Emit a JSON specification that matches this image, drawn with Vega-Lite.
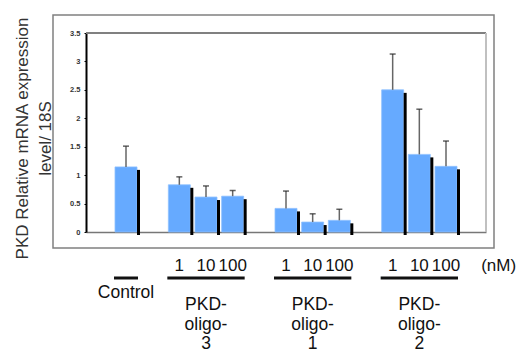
{
  "$schema": "https://vega.github.io/schema/vega-lite/v6.json",
  "padding": {"left": 12, "top": 14, "right": 0, "bottom": 0},
  "bounds": "flush",
  "spacing": 0,
  "config": {
    "font": "Liberation Sans",
    "view": {"stroke": "#808080", "strokeWidth": 1.5},
    "axisY": {
      "tickCount": 8,
      "labelExpr": "format(datum.value, '~g')",
      "labelOverlap": false,
      "labelFont": "Liberation Sans",
      "labelFontSize": 7.5,
      "labelFontWeight": "bold",
      "labelColor": "#333333",
      "labelPadding": 4,
      "tickColor": "#000000",
      "tickSize": 2,
      "tickWidth": 1,
      "domainColor": "#000000",
      "domainWidth": 2,
      "grid": false
    }
  },
  "datasets": {
    "bars": [
      {"slot": "C", "value": 1.145, "upper": 1.51},
      {"slot": "o3-1", "value": 0.83, "upper": 0.97},
      {"slot": "o3-10", "value": 0.615, "upper": 0.81},
      {"slot": "o3-100", "value": 0.63, "upper": 0.73},
      {"slot": "o1-1", "value": 0.415, "upper": 0.72},
      {"slot": "o1-10", "value": 0.175, "upper": 0.32},
      {"slot": "o1-100", "value": 0.205, "upper": 0.4},
      {"slot": "o2-1", "value": 2.5, "upper": 3.13},
      {"slot": "o2-10", "value": 1.365, "upper": 2.16},
      {"slot": "o2-100", "value": 1.155, "upper": 1.6}
    ],
    "labels": [
      {"slot": "o3-1", "row": "dose", "text": "1", "kind": "dose"},
      {"slot": "o3-10", "row": "dose", "text": "10", "kind": "dose"},
      {"slot": "o3-100", "row": "dose", "text": "100", "kind": "dose"},
      {"slot": "o1-1", "row": "dose", "text": "1", "kind": "dose"},
      {"slot": "o1-10", "row": "dose", "text": "10", "kind": "dose"},
      {"slot": "o1-100", "row": "dose", "text": "100", "kind": "dose"},
      {"slot": "o2-1", "row": "dose", "text": "1", "kind": "dose"},
      {"slot": "o2-10", "row": "dose", "text": "10", "kind": "dose"},
      {"slot": "o2-100", "row": "dose", "text": "100", "kind": "dose"},
      {"slot": "o3-10", "row": "n1", "text": "PKD-", "kind": "main"},
      {"slot": "o3-10", "row": "n2", "text": "oligo-", "kind": "main"},
      {"slot": "o3-10", "row": "n3", "text": "3", "kind": "main"},
      {"slot": "o1-10", "row": "n1", "text": "PKD-", "kind": "main"},
      {"slot": "o1-10", "row": "n2", "text": "oligo-", "kind": "main"},
      {"slot": "o1-10", "row": "n3", "text": "1", "kind": "main"},
      {"slot": "o2-10", "row": "n1", "text": "PKD-", "kind": "main"},
      {"slot": "o2-10", "row": "n2", "text": "oligo-", "kind": "main"},
      {"slot": "o2-10", "row": "n3", "text": "2", "kind": "main"},
      {"slot": "C", "row": "mid", "text": "Control", "kind": "control"},
      {"slot": "e14", "row": "dose", "text": "(nM)", "kind": "unit"}
    ],
    "groups": [
      {"from": "C", "to": "C"},
      {"from": "o3-1", "to": "o3-100"},
      {"from": "o1-1", "to": "o1-100"},
      {"from": "o2-1", "to": "o2-100"}
    ]
  },
  "vconcat": [
    {
      "width": 441,
      "height": 233,
      "view": {"stroke": "#808080", "strokeWidth": 1.5},
      "data": {"name": "bars"},
      "layer": [
        {
          "mark": {"type": "bar", "color": "#66aaff", "stroke": "#8ec0ff", "strokeWidth": 0.8, "width": {"band": 0.825}},
          "encoding": {
            "x": {
              "field": "slot",
              "type": "nominal",
              "scale": {
                "domain": ["e0", "C", "e2", "o3-1", "o3-10", "o3-100", "e6", "o1-1", "o1-10", "o1-100", "e10", "o2-1", "o2-10", "o2-100", "e14"],
                "range": [33, 433],
                "paddingInner": 0,
                "paddingOuter": 0
              },
              "axis": {"orient": "bottom", "offset": -16, "labels": false, "ticks": false, "domainColor": "#777777", "domainWidth": 1.5, "title": null, "grid": false}
            },
            "y": {
              "field": "value",
              "type": "quantitative",
              "scale": {"domain": [0, 3.5], "range": [217, 18], "nice": false, "zero": true},
              "axis": {
                "orient": "left",
                "offset": -33,
                "values": [0, 0.5, 1, 1.5, 2, 2.5, 3, 3.5],
                "labelExpr": "format(datum.value, '~g')",
                "labelOverlap": false,
                "labelFontWeight": "bold",
                "labelFontSize": 7.5,
                "title": ["PKD Relative mRNA expression", "level/ 18S"],
                "titleFont": "Liberation Sans",
                "titleFontSize": 17,
                "titleFontWeight": "normal",
                "titleColor": "#333333",
                "titleLineHeight": 23,
                "titlePadding": 15,
                "titleY": 123
              }
            }
          }
        },
        {
          "mark": {"type": "bar", "color": "#000000", "width": 3, "xOffset": 12.5, "yOffset": 3},
          "encoding": {
            "x": {"field": "slot", "type": "nominal"},
            "y": {"field": "value", "type": "quantitative"}
          }
        },
        {
          "mark": {"type": "rule", "color": "#666666", "strokeWidth": 1.5},
          "encoding": {
            "x": {"field": "slot", "type": "nominal"},
            "y": {"field": "value", "type": "quantitative"},
            "y2": {"field": "upper"}
          }
        },
        {
          "mark": {"type": "tick", "color": "#222222", "size": 6, "thickness": 1.5},
          "encoding": {
            "x": {"field": "slot", "type": "nominal"},
            "y": {"field": "upper", "type": "quantitative"}
          }
        },
        {
          "mark": {"type": "rule", "color": "#808080", "strokeWidth": 1.5, "xOffset": -13.33, "x2Offset": 13.33},
          "encoding": {
            "x": {"datum": "e0", "type": "nominal"},
            "x2": {"datum": "e14"},
            "y": {"datum": 3.5, "type": "quantitative"}
          }
        },
        {
          "mark": {"type": "rule", "color": "#c0c0c0", "strokeWidth": 1.5, "xOffset": 13.33},
          "encoding": {
            "x": {"datum": "e14", "type": "nominal"},
            "y": {"datum": 0, "type": "quantitative"},
            "y2": {"datum": 3.5}
          }
        }
      ]
    },
    {
      "width": 441,
      "height": 106,
      "view": {"stroke": null, "fill": null},
      "encoding": {
        "y": {
          "field": "row",
          "type": "nominal",
          "scale": {"type": "point", "domain": ["dose", "mid", "n1", "n2", "n3"], "range": [23, 101], "padding": 0},
          "axis": null
        }
      },
      "layer": [
        {
          "data": {"name": "groups"},
          "mark": {"type": "rule", "color": "#111111", "strokeWidth": 3, "xOffset": -12, "x2Offset": 12, "yOffset": 7},
          "encoding": {
            "x": {
              "field": "from",
              "type": "nominal",
              "scale": {
                "domain": ["e0", "C", "e2", "o3-1", "o3-10", "o3-100", "e6", "o1-1", "o1-10", "o1-100", "e10", "o2-1", "o2-10", "o2-100", "e14"],
                "range": [33, 433],
                "paddingInner": 0,
                "paddingOuter": 0
              },
              "axis": null
            },
            "x2": {"field": "to"},
            "y": {"datum": "dose", "type": "nominal"}
          }
        },
        {
          "data": {"name": "labels"},
          "transform": [{"filter": "datum.kind == 'main'"}],
          "mark": {"type": "text", "fontSize": 17.5, "baseline": "alphabetic", "align": "center", "color": "#111111", "font": "Liberation Sans"},
          "encoding": {
            "x": {"field": "slot", "type": "nominal"},
            "text": {"field": "text"}
          }
        },
        {
          "data": {"name": "labels"},
          "transform": [{"filter": "datum.kind == 'dose'"}],
          "mark": {"type": "text", "fontSize": 17, "baseline": "alphabetic", "align": "center", "color": "#111111", "font": "Liberation Sans"},
          "encoding": {
            "x": {"field": "slot", "type": "nominal"},
            "text": {"field": "text"}
          }
        },
        {
          "data": {"name": "labels"},
          "transform": [{"filter": "datum.kind == 'control'"}],
          "mark": {"type": "text", "fontSize": 17.5, "baseline": "alphabetic", "align": "center", "color": "#111111", "font": "Liberation Sans", "dy": 7},
          "encoding": {
            "x": {"field": "slot", "type": "nominal"},
            "text": {"field": "text"}
          }
        },
        {
          "data": {"name": "labels"},
          "transform": [{"filter": "datum.kind == 'unit'"}],
          "mark": {"type": "text", "fontSize": 17, "baseline": "alphabetic", "align": "center", "color": "#111111", "font": "Liberation Sans", "dx": 26},
          "encoding": {
            "x": {"field": "slot", "type": "nominal"},
            "text": {"field": "text"}
          }
        }
      ]
    }
  ],
  "resolve": {"scale": {"x": "independent", "y": "independent"}}
}
